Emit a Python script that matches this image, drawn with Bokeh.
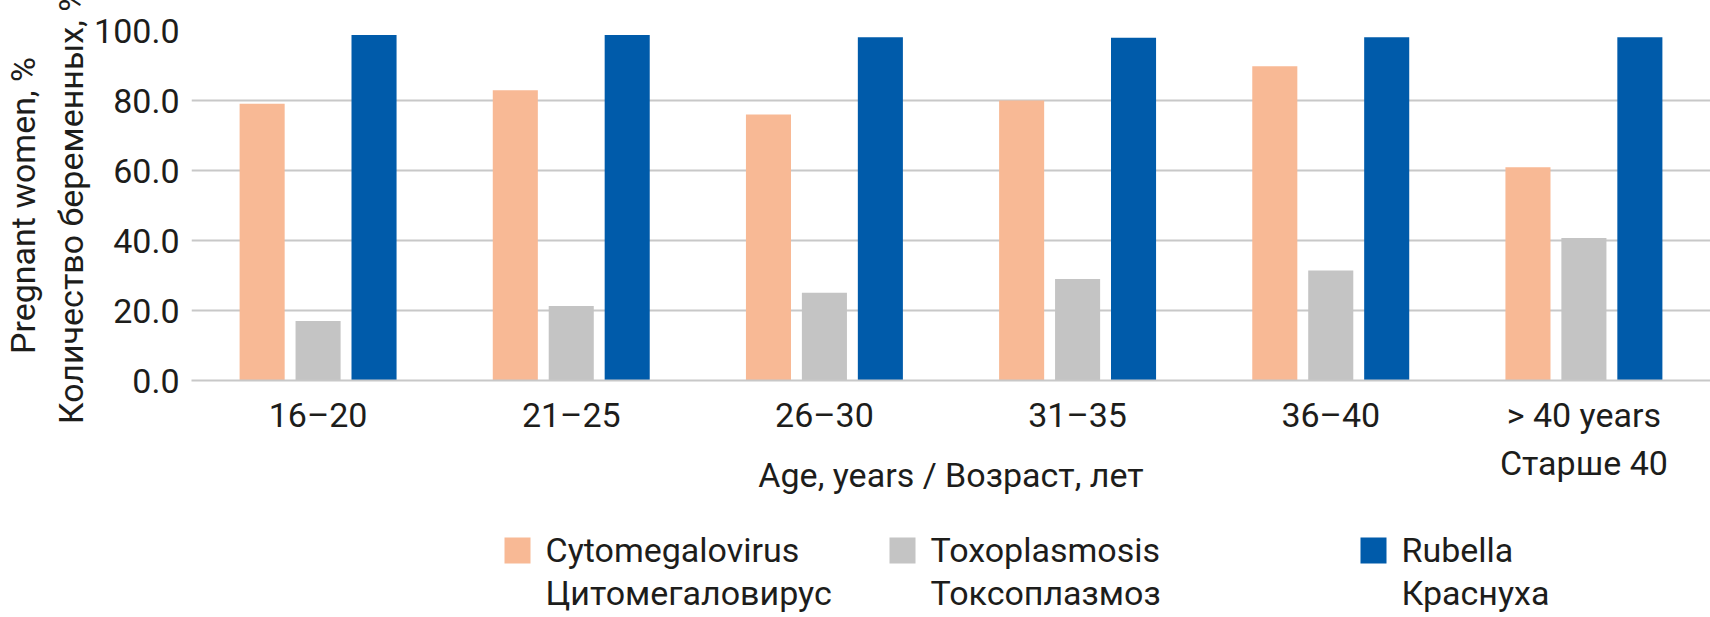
import numpy as np
from bokeh.plotting import figure
from bokeh.layouts import column
from bokeh.models import Range1d, FixedTicker, NumeralTickFormatter, Label, BoxAnnotation
from bokeh.embed import file_html
from bokeh.resources import INLINE

# ---- data ----
age_groups = ["16–20", "21–25", "26–30", "31–35", "36–40", "> 40 years\nСтарше 40"]
cmv = [79.1, 82.9, 76.0, 80.0, 89.8, 60.9]
toxo = [17.0, 21.3, 25.1, 29.0, 31.4, 40.7]
rubella = [98.7, 98.7, 98.1, 97.9, 98.1, 98.1]
series_en = ["Cytomegalovirus", "Toxoplasmosis", "Rubella"]
series_ru = ["Цитомегаловирус", "Токсоплазмоз", "Краснуха"]
y_ticks = [0, 20, 40, 60, 80, 100]

colors = ["#F8B995", "#C4C4C4", "#005BAA"]
FONT = "Roboto"
FS = "34px"
TXT = "#1D1D1B"
GRID = "#C8C8C8"

W = 1710
H_MAIN, H_LEG = 510, 107
FRAME_LEFT = 191

p = figure(width=W, height=H_MAIN, output_backend="svg", toolbar_location=None,
           x_range=Range1d(0, len(age_groups)), y_range=Range1d(0, 100),
           min_border_left=FRAME_LEFT, min_border_right=0, min_border_top=30,
           min_border_bottom=H_MAIN - 380)
p.outline_line_color = None

centers = np.arange(len(age_groups)) + 0.5
offsets = [-0.221, 0.0, 0.221]
all_series = [cmv, toxo, rubella]
for vals, off, col in zip(all_series, offsets, colors):
    p.vbar(x=centers + off, top=vals, bottom=0, width=0.178, fill_color=col, line_color=None)

# y axis
p.yaxis.ticker = FixedTicker(ticks=y_ticks)
p.yaxis.formatter = NumeralTickFormatter(format="0.0")
p.yaxis.axis_line_color = None
p.yaxis.major_tick_line_color = None
p.yaxis.major_tick_out = 0
p.yaxis.minor_tick_line_color = None
p.yaxis.major_label_standoff = 12
p.yaxis.major_label_text_font = FONT
p.yaxis.major_label_text_font_size = FS
p.yaxis.major_label_text_color = TXT
p.yaxis.axis_label = "Pregnant women, %\nКоличество беременных, %"
p.yaxis.axis_label_text_font = FONT
p.yaxis.axis_label_text_font_size = FS
p.yaxis.axis_label_text_font_style = "normal"
p.yaxis.axis_label_text_color = TXT
p.yaxis.axis_label_standoff = 0

# x axis
p.xaxis.ticker = FixedTicker(ticks=list(centers))
p.xaxis.major_label_overrides = {float(c): lab for c, lab in zip(centers, age_groups)}
p.xaxis.axis_line_color = GRID
p.xaxis.axis_line_width = 2
p.xaxis.major_tick_line_color = None
p.xaxis.major_tick_out = 0
p.xaxis.minor_tick_line_color = None
p.xaxis.major_label_standoff = 14
p.xaxis.major_label_text_font = FONT
p.xaxis.major_label_text_font_size = FS
p.xaxis.major_label_text_color = TXT
p.xaxis.axis_label = "Age, years / Возраст, лет"
p.xaxis.axis_label_text_font = FONT
p.xaxis.axis_label_text_font_size = FS
p.xaxis.axis_label_text_font_style = "normal"
p.xaxis.axis_label_text_color = TXT
p.xaxis.axis_label_standoff = -31

p.xgrid.grid_line_color = None
p.ygrid.grid_line_color = GRID
p.ygrid.grid_line_width = 2

# ---- legend strip below the chart (screen-unit annotations) ----
# the strip's frame is aligned with the chart frame by the column layout,
# so horizontal positions are measured from FRAME_LEFT
lf = figure(width=W, height=H_LEG, output_backend="svg", toolbar_location=None,
            x_range=Range1d(0, 1), y_range=Range1d(0, 1),
            x_axis_type=None, y_axis_type=None,
            min_border_left=0, min_border_right=0, min_border_top=0, min_border_bottom=0)
lf.grid.visible = False
lf.outline_line_color = None

leg_x = [504, 889, 1360]      # swatch left edges on the page (px)
SW = 26                       # swatch size (px)
GAP = 15                      # swatch-to-text gap (px)
ROW1, ROW2 = 68, 25           # text centre lines, px above strip bottom
for col, en, ru, lx in zip(colors, series_en, series_ru, leg_x):
    sx = lx - FRAME_LEFT
    lf.add_layout(BoxAnnotation(left=sx, right=sx + SW, bottom=ROW1 - SW / 2 - 1, top=ROW1 + SW / 2 - 1,
                                left_units="screen", right_units="screen",
                                bottom_units="screen", top_units="screen",
                                fill_color=col, fill_alpha=1.0, line_color=None))
    for txt, yy in ((en, ROW1), (ru, ROW2)):
        lf.add_layout(Label(x=sx + SW + GAP, y=yy, x_units="screen", y_units="screen",
                            text=txt, text_font=FONT, text_font_size=FS, text_color=TXT,
                            text_baseline="middle", text_align="left"))

layout = column(p, lf, spacing=0)
open("out.html", "w").write(file_html(layout, INLINE))
